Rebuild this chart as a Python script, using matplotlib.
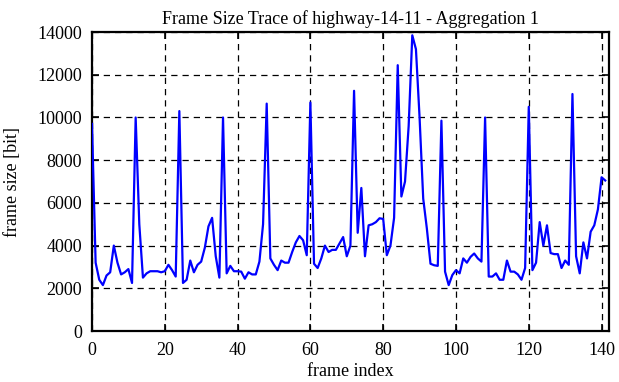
import matplotlib
matplotlib.use("Agg")
import matplotlib.pyplot as plt

# frame sizes (bits), one per frame index
frame_size = [
    9700, 3200, 2400, 2150, 2600, 2750, 4000, 3200, 2650, 2750,
    2900, 2250, 10000, 5000, 2500, 2700, 2800, 2800, 2800, 2750,
    2800, 3100, 2850, 2550, 10300, 2250, 2400, 3300, 2750, 3100,
    3250, 3900, 4900, 5300, 3500, 2500, 10000, 2700, 3050, 2800,
    2800, 2780, 2450, 2750, 2650, 2650, 3250, 5000, 10650, 3400,
    3100, 2850, 3300, 3200, 3200, 3700, 4150, 4450, 4250, 3550,
    10700, 3150, 2950, 3400, 4000, 3700, 3800, 3800, 4100, 4400,
    3500, 4000, 11250, 4600, 6700, 3500, 4950, 5000, 5100, 5280,
    5250, 3550, 4000, 5300, 12450, 6300, 7000, 9600, 13850, 13200,
    10000, 6200, 4800, 3150, 3080, 3050, 9850, 2780, 2150, 2620,
    2850, 2700, 3400, 3200, 3470, 3630, 3400, 3250, 10000, 2550,
    2550, 2700, 2400, 2400, 3300, 2780, 2780, 2650, 2400, 2950,
    10500, 2850, 3200, 5100, 4000, 4950, 3650, 3600, 3600, 2950,
    3300, 3100, 11100, 3500, 2700, 4150, 3400, 4650, 4950, 5700,
    7200, 7050,
]
frame_index = list(range(len(frame_size)))

x_ticks = [0, 20, 40, 60, 80, 100, 120, 140]
y_ticks = [0, 2000, 4000, 6000, 8000, 10000, 12000, 14000]

plt.rcParams['font.family'] = ['Liberation Serif', 'DejaVu Serif']
plt.rcParams['font.size'] = 13

fig = plt.figure(figsize=(6.19, 3.82), dpi=100)
ax = fig.add_axes([0.1486, 0.1335, 0.835, 0.7825])

ax.plot(frame_index, frame_size, color="#0000ff", linewidth=1.6, zorder=3)

ax.set_xlim(0, 142)
ax.set_ylim(0, 14000)
ax.set_xticks(x_ticks)
ax.set_yticks(y_ticks)
ax.grid(True, color="black", linestyle=(0, (5, 4)), linewidth=0.9)
ax.tick_params(direction="in", top=True, right=True, length=5, width=1.2)
ax.tick_params(axis="x", pad=8)
ax.tick_params(axis="y", pad=7)
for s in ax.spines.values():
    s.set_linewidth(1.6)

ax.set_xlabel("frame index", labelpad=3)
ax.set_ylabel("frame size [bit]", labelpad=12)
ax.set_title("Frame Size Trace of highway-14-11 - Aggregation 1", fontsize=13, pad=6)

fig.savefig("out.png", dpi=100)
